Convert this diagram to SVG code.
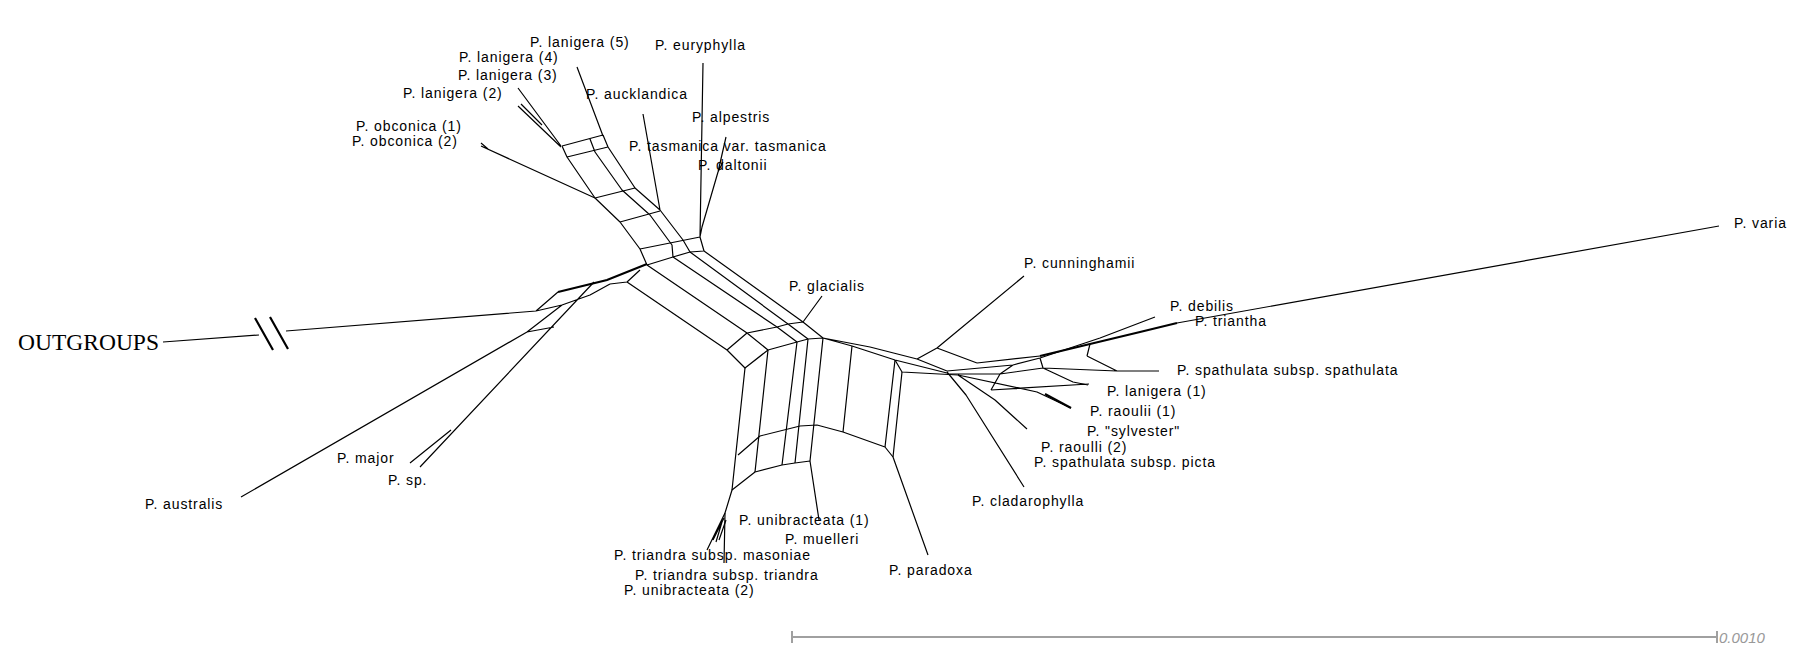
<svg xmlns="http://www.w3.org/2000/svg" width="1809" height="660" viewBox="0 0 1809 660">
<style>
.e{stroke:#000;stroke-width:1.2;fill:none;stroke-linejoin:round}
.h{stroke:#000;stroke-width:2.2;fill:none}
.t{font-family:"Liberation Sans",Arial,sans-serif;font-size:14px;letter-spacing:0.9px;fill:#000}
.og{font-family:"Liberation Serif","Times New Roman",serif;font-size:23px;fill:#000}
.sb{stroke:#a0a0a0;stroke-width:2;fill:none}
.st{font-family:"Liberation Sans",Arial,sans-serif;font-size:15px;font-style:italic;fill:#999}
</style>
<rect width="1809" height="660" fill="#fff"/>
<g id="edges">
<path class="e" d="M518,88 L561,146 M518,106 L561,147 M521,104 L542,125 M481,146 L595,198 M481,143 L488,149 M577,67 L603,136"/>
<path class="e" d="M562,146 L603,135 M567,157 L608,147 M562,146 L567,157 M603,135 L608,147 M590,139 L595,152"/>
<path class="e" d="M567,157 L595,198 L620,222 L640,249 L647,265 M595,152 L622,190 L650,215 L672,245 L673,257 M608,147 L635,188 L660,210 L683,240 L690,252 M595,198 L635,188 M620,222 L660,211 M643,114 L660,210"/>
<path class="e" d="M703,63 L700,237 L704,251 M726,137 L718,172 L702,227 L700,237 M723,162 L718,172 M640,249 L700,237 M647,265 L673,257 L690,252 L704,251"/>
<path class="e" d="M647,265 L747,333 M673,257 L777,327 M690,252 L788,324 M704,251 L803,322 M747,333 L777,327 L788,324 L803,322 M803,322 L822,296 M777,327 L797,342 M788,324 L808,339 M803,322 L823,338 M747,333 L768,350"/>
<path class="e" d="M727,350 L747,333 M727,350 L745,368 L768,350 M627,282 L727,350 M768,350 L797,342 L808,339 L823,338 L852,346 L895,360 L947,373 M823,338 L870,347 L917,359 L947,371 M895,360 L902,372 L958,375 M917,359 L937,348 L1024,276 M937,348 L977,363"/>
<path class="e" d="M768,350 L755,472 M797,342 L782,465 M808,339 L795,463 M823,338 L810,461 M852,346 L843,432 M895,360 L885,447 M902,372 L893,457 M745,368 L732,490 L725,513 L724,563"/>
<path class="e" d="M738,455 L760,436 L800,426 L817,425 L843,432 L885,447 L893,457 M732,490 L755,472 L782,465 L795,463 L810,461 M810,461 L819,520 M893,457 L928,555 M725,513 L707,550 M724,518 L713,540 M722,522 L716,542 M726,520 L719,540"/>
<path class="e" d="M947,371 L1013,365 L1040,358 L1100,338 L1155,317 M1177,323 L1719,226 M947,374 L1000,374 L1043,368 L1117,371 L1159,371 M1087,356 L1117,371 M1043,368 L1073,382 L1088,385 M991,390 L1089,384 M1000,374 L991,390 M958,375 L1037,392 L1071,408 M958,375 L995,400 L1027,429 M947,372 L966,395 L1024,487 M1013,365 L1000,374 M1040,358 L1043,368 M1087,356 L1090,344 M977,363 L1040,356"/>
<path class="h" d="M1040,356 L1090,344 L1140,332 L1177,323"/>
<path class="h" d="M1045,394 L1071,408"/>
<path class="e" d="M163,342 L259,335 M286,331 L536,311 M536,311 L558,292 M536,311 L562,305 L590,295 L610,284 M241,497 L527,332 L562,305 M527,332 L554,327 M420,467 L594,282 M410,463 L451,430 M627,282 L640,270 M610,284 L627,282"/>
<path class="h" d="M558,292 L607,280 L647,264"/>
<path class="h" d="M255,318 L273,350 M270,317 L288,349"/>
</g>
<g id="labels">
<g id="n-lanigera5"><text class="t" x="530" y="47">P. lanigera (5)</text></g>
<g id="n-euryphylla"><text class="t" x="655" y="50">P. euryphylla</text></g>
<g id="n-lanigera4"><text class="t" x="459" y="62">P. lanigera (4)</text></g>
<g id="n-lanigera3"><text class="t" x="458" y="80">P. lanigera (3)</text></g>
<g id="n-lanigera2"><text class="t" x="403" y="98">P. lanigera (2)</text></g>
<g id="n-aucklandica"><text class="t" x="586" y="99">P. aucklandica</text></g>
<g id="n-alpestris"><text class="t" x="692" y="122">P. alpestris</text></g>
<g id="n-obconica1"><text class="t" x="356" y="131">P. obconica (1)</text></g>
<g id="n-obconica2"><text class="t" x="352" y="146">P. obconica (2)</text></g>
<g id="n-tasmanica"><text class="t" x="629" y="151">P. tasmanica var. tasmanica</text></g>
<g id="n-daltonii"><text class="t" x="698" y="170">P. daltonii</text></g>
<g id="n-varia"><text class="t" x="1734" y="228">P. varia</text></g>
<g id="n-cunninghamii"><text class="t" x="1024" y="268">P. cunninghamii</text></g>
<g id="n-glacialis"><text class="t" x="789" y="291">P. glacialis</text></g>
<g id="n-debilis"><text class="t" x="1170" y="311">P. debilis</text></g>
<g id="n-triantha"><text class="t" x="1195" y="326">P. triantha</text></g>
<g id="n-outgroups"><text class="og" x="18" y="350" textLength="141" lengthAdjust="spacingAndGlyphs">OUTGROUPS</text></g>
<g id="n-spathulata"><text class="t" x="1177" y="375">P. spathulata subsp. spathulata</text></g>
<g id="n-lanigera1"><text class="t" x="1107" y="396">P. lanigera (1)</text></g>
<g id="n-raoulii1"><text class="t" x="1090" y="416">P. raoulii (1)</text></g>
<g id="n-sylvester"><text class="t" x="1087" y="436">P. "sylvester"</text></g>
<g id="n-raoulli2"><text class="t" x="1041" y="452">P. raoulli (2)</text></g>
<g id="n-picta"><text class="t" x="1034" y="467">P. spathulata subsp. picta</text></g>
<g id="n-major"><text class="t" x="337" y="463">P. major</text></g>
<g id="n-sp"><text class="t" x="388" y="485">P. sp.</text></g>
<g id="n-cladarophylla"><text class="t" x="972" y="506">P. cladarophylla</text></g>
<g id="n-australis"><text class="t" x="145" y="509">P. australis</text></g>
<g id="n-unibracteata1"><text class="t" x="739" y="525">P. unibracteata (1)</text></g>
<g id="n-muelleri"><text class="t" x="785" y="544">P. muelleri</text></g>
<g id="n-masoniae"><text class="t" x="614" y="560">P. triandra subsp. masoniae</text></g>
<g id="n-paradoxa"><text class="t" x="889" y="575">P. paradoxa</text></g>
<g id="n-triandra"><text class="t" x="635" y="580">P. triandra subsp. triandra</text></g>
<g id="n-unibracteata2"><text class="t" x="624" y="595">P. unibracteata (2)</text></g>
</g>
<g id="scalebar">
<path class="sb" d="M792,637 L1717,637 M792,631 L792,643 M1717,631 L1717,643"/>
<text class="st" x="1719" y="643">0.0010</text>
</g>
</svg>
